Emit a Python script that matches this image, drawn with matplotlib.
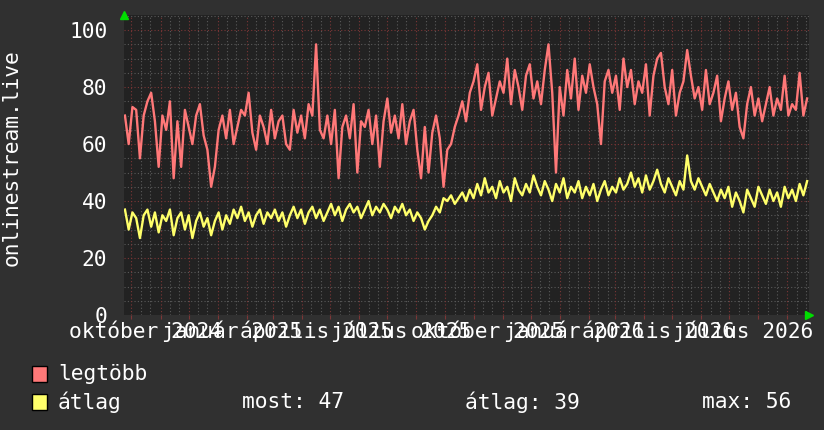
#!/usr/bin/env python3
"""onlinestream.live - listener count chart (rrdtool style, dark theme)."""

import datetime as dt
import matplotlib
matplotlib.use("Agg")
import matplotlib.pyplot as plt
import matplotlib.dates as mdates
from matplotlib.patches import Rectangle

# ── Style ──────────────────────────────────────────────────────────────────
FONT = "DejaVu Sans Mono"
FS = 15.3
BG = "#303030"
CANVAS = "#222222"
C_PEAK = "#ff7878"
C_AVG = "#ffff6a"
C_GRID = "#5a5a5a"
C_MGRID = "#7c3636"
C_ARROW = "#00dd00"

# ── Data (one sample every 4 days, starting 2024-09-24) ───────────────────
start = dt.date(2024, 9, 24)
step_days = 4

peak = [
    70, 60, 73, 72, 55, 70, 75, 78, 68, 52,
    70, 65, 75, 48, 68, 52, 72, 66, 60, 70,
    74, 63, 58, 45, 52, 65, 70, 62, 72, 60,
    66, 72, 70, 78, 64, 58, 70, 66, 60, 72,
    62, 68, 70, 60, 58, 72, 64, 70, 62, 74,
    70, 95, 65, 62, 70, 60, 72, 48, 66, 70,
    62, 74, 50, 68, 66, 72, 60, 70, 52, 68,
    76, 64, 70, 62, 74, 60, 68, 72, 58, 48,
    66, 50, 64, 70, 62, 45, 58, 60, 66, 70,
    75, 68, 78, 82, 88, 72, 80, 85, 70, 76,
    82, 78, 90, 74, 86, 80, 72, 84, 88, 76,
    82, 74, 86, 95, 78, 50, 80, 70, 86, 76,
    90, 72, 84, 78, 88, 80, 74, 60, 82, 86,
    78, 84, 72, 90, 80, 86, 74, 82, 78, 88,
    70, 84, 90, 92, 80, 74, 86, 70, 78, 82,
    93, 84, 76, 80, 72, 86, 74, 78, 84, 68,
    76, 82, 72, 78, 66, 62, 74, 80, 70, 76,
    68, 74, 80, 70, 76, 72, 84, 70, 74, 72,
    85, 70, 76,
]

avg = [
    37, 30, 36, 34, 27, 35, 37, 31, 36, 29,
    35, 33, 37, 28, 34, 36, 30, 35, 27, 33,
    36, 31, 34, 28, 33, 36, 30, 35, 32, 37,
    34, 38, 33, 36, 31, 35, 37, 32, 36, 34,
    37, 33, 36, 31, 35, 38, 34, 37, 32, 36,
    38, 34, 37, 33, 36, 39, 35, 38, 33, 37,
    39, 36, 38, 34, 37, 40, 35, 38, 36, 39,
    37, 34, 38, 36, 39, 35, 37, 33, 36, 34,
    30, 33, 35, 38, 36, 41, 40, 42, 39, 41,
    43, 40, 44, 41, 46, 42, 48, 43, 45, 41,
    47, 43, 45, 40, 48, 44, 42, 46, 43, 49,
    45, 42, 47, 44, 40, 46, 43, 48, 41, 45,
    43, 47, 41, 45, 42, 46, 40, 44, 47, 42,
    45, 43, 48, 44, 46, 50, 45, 48, 43, 49,
    44, 47, 51, 46, 43, 48, 45, 42, 47, 44,
    56, 47, 44, 48, 45, 42, 46, 43, 40, 44,
    41, 45, 38, 43, 40, 36, 44, 41, 38, 45,
    42, 39, 44, 40, 43, 38, 45, 41, 44, 40,
    46, 42, 47,
]

dates = [start + dt.timedelta(days=step_days * i) for i in range(len(peak))]

month_labels = ["október 2024", "január 2025", "április 2025", "július 2025",
                "október 2025", "január 2026", "április 2026", "július 2026"]
label_months = [(2024, 10), (2025, 1), (2025, 4), (2025, 7),
                (2025, 10), (2026, 1), (2026, 4), (2026, 7)]

y_label = "onlinestream.live"
legend_names = ["legtöbb", "átlag"]
stat_last, stat_mean, stat_max = 47, 39, 56

# ── Figure ─────────────────────────────────────────────────────────────────
W, H = 824, 430
fig = plt.figure(figsize=(W / 100, H / 100), dpi=100, facecolor=BG)
L, R, T, B = 124, 809, 15, 315
ax = fig.add_axes([L / W, 1 - B / H, (R - L) / W, (B - T) / H], facecolor=CANVAS)

x0, x1 = dt.date(2024, 9, 23), dt.date(2026, 9, 24)
ax.set_xlim(x0, x1)
ax.set_ylim(0, 105.3)

# grid: minor every 5 units / 10 days, major (red) every 20 units / month
for v in range(5, 106, 5):
    ax.axhline(v, color=C_MGRID if v % 20 == 0 else C_GRID, lw=0.8,
               ls=(0, (1, 2)), zorder=1)
d = dt.date(2024, 9, 1)
while d <= x1:
    for day in (1, 11, 21):
        g = d.replace(day=day)
        if x0 < g < x1:
            ax.axvline(g, color=C_MGRID if day == 1 else C_GRID, lw=0.8,
                       ls=(0, (1, 2)), zorder=1)
    d = (d.replace(day=28) + dt.timedelta(days=5)).replace(day=1)

ax.plot(dates, peak, color=C_PEAK, lw=1.7, zorder=3)
ax.plot(dates, avg, color=C_AVG, lw=1.7, zorder=4)

# axes / ticks
for s in ax.spines.values():
    s.set_visible(False)
ax.set_yticks(range(0, 101, 20))
ax.set_yticklabels([str(v) for v in range(0, 101, 20)])
label_pos = [dt.date(y, m, 16) for y, m in label_months]
ax.set_xticks(label_pos)
ax.set_xticklabels(month_labels)
ax.xaxis.set_minor_locator(mdates.MonthLocator())
ax.tick_params(axis="both", which="major", length=0, colors="white",
               labelsize=FS)
ax.tick_params(axis="y", pad=12)
ax.tick_params(axis="x", pad=16.5)
ax.tick_params(axis="x", which="minor", length=3, color=C_MGRID, width=0.8)
for lbl in ax.get_xticklabels():
    lbl.set_fontfamily(FONT)
    lbl.set_verticalalignment("baseline")
for lbl in ax.get_yticklabels():
    lbl.set_fontfamily(FONT)

# green arrows at axis ends
ax.plot([0], [1.0], marker="^", ms=6, color=C_ARROW, transform=ax.transAxes,
        clip_on=False, zorder=5)
ax.plot([1.0], [0], marker=">", ms=6, color=C_ARROW, transform=ax.transAxes,
        clip_on=False, zorder=5)

fig.text(12 / W, 1 - 158 / H, y_label, rotation=90, color="white",
         fontsize=FS, family=FONT, ha="center", va="center")

# legend (drawn like rrdtool)
rows = [(C_PEAK, 374), (C_AVG, 402)]
for (col, yc), name in zip(rows, legend_names):
    fig.patches.append(Rectangle((32 / W, 1 - (yc + 8) / H), 15 / W, 16 / H,
                                 transform=fig.transFigure, facecolor=col,
                                 edgecolor="black", lw=1.0))
    fig.text(58 / W, 1 - yc / H, name, color="white", fontsize=FS,
             family=FONT, va="center", ha="left")

yc = rows[1][1]
fig.text(242 / W, 1 - yc / H, f"most: {stat_last}", color="white",
         fontsize=FS, family=FONT, va="center")
fig.text(465 / W, 1 - yc / H, f"átlag: {stat_mean}", color="white",
         fontsize=FS, family=FONT, va="center")
fig.text(702 / W, 1 - yc / H, f"max: {stat_max}", color="white",
         fontsize=FS, family=FONT, va="center")

fig.savefig("out.png", dpi=100, facecolor=BG)
